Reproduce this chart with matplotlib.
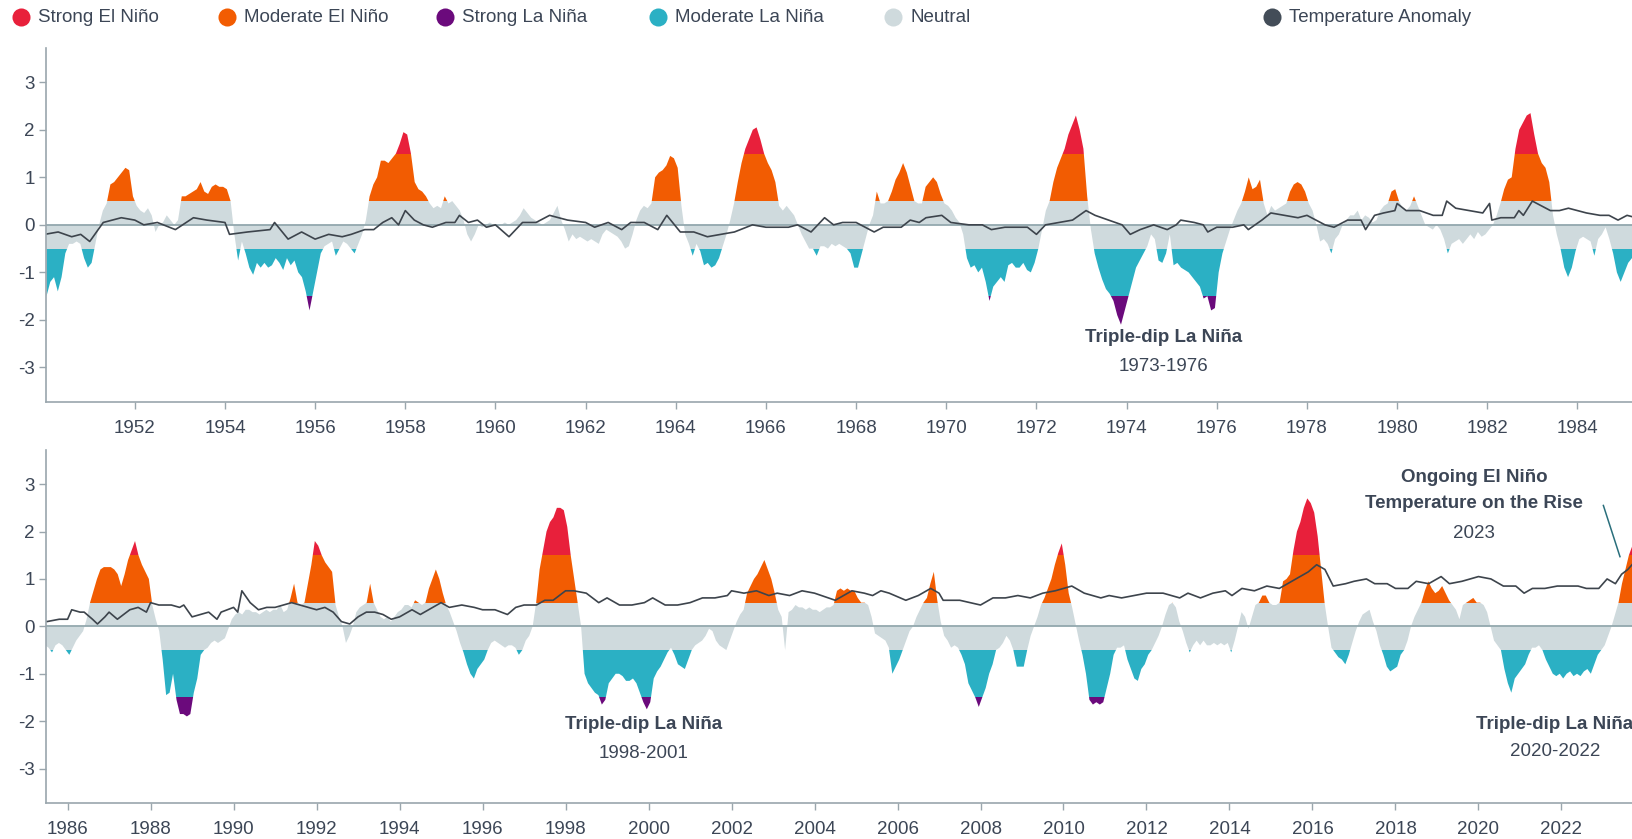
import matplotlib
matplotlib.use('Agg')
import matplotlib.pyplot as plt
from matplotlib.patches import Rectangle
from matplotlib.lines import Line2D
import numpy as np

plt.rcParams['font.family'] = ['Liberation Sans', 'DejaVu Sans']
plt.rcParams['axes.unicode_minus'] = False

# monthly nino index, Jan 1950 onwards
oni_1950s = [
    -1.5, -1.2, -1.1, -1.4, -1.1, -0.6, -0.4, -0.4, -0.35, -0.4, -0.7, -0.9,
    -0.8, -0.4, 0.0, 0.3, 0.45, 0.85, 0.9, 1.0, 1.1, 1.2, 1.15, 0.6,
    0.4, 0.3, 0.25, 0.35, 0.2, -0.15, 0.0, 0.05, 0.2, 0.1, 0.0, 0.1,
    0.6, 0.6, 0.65, 0.7, 0.75, 0.9, 0.7, 0.65, 0.8, 0.85, 0.8, 0.8,
    0.75, 0.5, -0.2, -0.75, -0.35, -0.6, -0.9, -1.05, -0.8, -0.9, -0.8, -0.9,
    -0.85, -0.7, -0.8, -0.95, -0.7, -0.85, -0.75, -1.0, -1.1, -1.4, -1.8, -1.4,
    -1.0, -0.6, -0.45, -0.4, -0.35, -0.65, -0.5, -0.35, -0.4, -0.5, -0.6, -0.4,
    -0.2, 0.1, 0.6, 0.85, 1.0, 1.35, 1.35, 1.3, 1.4, 1.5, 1.7, 1.95,
    1.9, 1.5, 0.9, 0.75, 0.7, 0.6, 0.45, 0.35, 0.4, 0.35, 0.6, 0.45,
    0.5, 0.4, 0.3, 0.1, -0.2, -0.35, -0.2, 0.0, -0.05, 0.0, 0.05, 0.0,
]
oni_1960s = [
    -0.05, 0.0, 0.05, 0.0, 0.05, 0.1, 0.2, 0.35, 0.25, 0.15, 0.1, 0.05,
    0.0, 0.05, 0.1, 0.25, 0.4, 0.1, -0.1, -0.35, -0.2, -0.3, -0.25, -0.3,
    -0.35, -0.3, -0.35, -0.4, -0.2, -0.1, -0.15, -0.2, -0.25, -0.35, -0.5, -0.45,
    -0.2, 0.1, 0.3, 0.4, 0.35, 0.45, 1.0, 1.1, 1.15, 1.25, 1.45, 1.4,
    1.2, 0.4, -0.2, -0.4, -0.65, -0.4, -0.55, -0.85, -0.8, -0.9, -0.85, -0.7,
    -0.45, -0.2, 0.1, 0.45, 0.9, 1.3, 1.6, 1.8, 2.0, 2.05, 1.8, 1.5,
    1.3, 1.15, 0.9, 0.4, 0.3, 0.4, 0.3, 0.2, 0.0, -0.2, -0.35, -0.5,
    -0.5, -0.65, -0.45, -0.45, -0.5, -0.4, -0.45, -0.4, -0.45, -0.5, -0.6, -0.9,
    -0.9, -0.6, -0.3, 0.0, 0.2, 0.7, 0.45, 0.45, 0.5, 0.7, 0.95, 1.1,
    1.3, 1.1, 0.8, 0.5, 0.45, 0.45, 0.8, 0.9, 1.0, 0.9, 0.65, 0.45,
]
oni_1970s = [
    0.4, 0.3, 0.15, 0.05, -0.2, -0.7, -0.9, -0.85, -1.0, -0.9, -1.2, -1.6,
    -1.3, -1.2, -1.1, -1.2, -0.85, -0.8, -0.9, -0.9, -0.8, -0.95, -1.0, -0.8,
    -0.5, -0.1, 0.3, 0.5, 0.9, 1.2, 1.4, 1.6, 1.9, 2.1, 2.3, 2.0,
    1.6, 0.6, -0.1, -0.6, -0.9, -1.15, -1.35, -1.45, -1.6, -1.9, -2.1, -1.8,
    -1.5, -1.2, -0.9, -0.75, -0.6, -0.45, -0.2, -0.3, -0.75, -0.8, -0.6, -0.2,
    -0.85, -0.8, -0.9, -0.95, -1.0, -1.1, -1.2, -1.3, -1.55, -1.5, -1.8, -1.75,
    -1.0, -0.6, -0.35, -0.1, 0.1, 0.3, 0.45, 0.7, 1.0, 0.75, 0.8, 0.95,
    0.45, 0.2, 0.4, 0.3, 0.35, 0.4, 0.45, 0.7, 0.85, 0.9, 0.85, 0.7,
    0.45, 0.3, 0.0, -0.35, -0.3, -0.4, -0.6, -0.3, -0.2, 0.0, 0.1, 0.2,
    0.2, 0.3, 0.1, 0.2, 0.15, 0.05, 0.1, 0.3, 0.4, 0.45, 0.7, 0.75,
]
oni_1980s = [
    0.5, 0.35, 0.3, 0.4, 0.6, 0.4, 0.2, 0.0, -0.05, -0.1, 0.0, -0.1,
    -0.3, -0.6, -0.4, -0.35, -0.3, -0.4, -0.3, -0.2, -0.3, -0.15, -0.25, -0.2,
    -0.1, 0.0, 0.2, 0.45, 0.75, 0.95, 1.0, 1.6, 2.0, 2.15, 2.3, 2.35,
    1.9, 1.5, 1.3, 1.2, 0.9, 0.2, -0.2, -0.5, -0.9, -1.1, -0.9, -0.55,
    -0.3, -0.25, -0.3, -0.35, -0.65, -0.3, -0.2, -0.05, -0.3, -0.6, -1.0, -1.2,
    -1.0, -0.8, -0.7, -0.6, -0.5, -0.4, -0.45, -0.55, -0.4, -0.35, -0.4, -0.5,
    -0.6, -0.45, -0.3, -0.2, -0.1, 0.15, 0.5, 0.75, 1.0, 1.2, 1.25, 1.25,
    1.25, 1.2, 1.1, 0.85, 1.1, 1.4, 1.6, 1.8, 1.5, 1.3, 1.15, 1.0,
    0.45, 0.15, -0.1, -0.7, -1.45, -1.4, -1.0, -1.55, -1.85, -1.85, -1.9, -1.85,
    -1.4, -1.1, -0.6, -0.5, -0.45, -0.35, -0.3, -0.35, -0.3, -0.25, -0.05, 0.15,
]
oni_1990s = [
    0.25, 0.3, 0.25, 0.35, 0.35, 0.3, 0.3, 0.25, 0.3, 0.35, 0.3, 0.35,
    0.35, 0.45, 0.3, 0.35, 0.6, 0.9, 0.5, 0.45, 0.5, 0.9, 1.3, 1.8,
    1.7, 1.5, 1.35, 1.25, 1.15, 0.45, 0.2, 0.0, -0.35, -0.2, 0.0, 0.3,
    0.4, 0.45, 0.5, 0.9, 0.5, 0.35, 0.2, 0.15, 0.2, 0.1, 0.2, 0.3,
    0.35, 0.45, 0.45, 0.4, 0.55, 0.5, 0.45, 0.5, 0.8, 1.0, 1.2, 1.0,
    0.7, 0.45, 0.3, 0.1, -0.1, -0.35, -0.55, -0.8, -1.0, -1.1, -0.9, -0.8,
    -0.7, -0.5, -0.35, -0.3, -0.35, -0.4, -0.45, -0.4, -0.4, -0.45, -0.6, -0.5,
    -0.3, -0.2, 0.0, 0.5, 1.2, 1.6, 2.0, 2.2, 2.3, 2.5, 2.5, 2.45,
    2.1, 1.5, 1.0, 0.5, 0.0, -1.0, -1.2, -1.3, -1.4, -1.45, -1.65, -1.55,
    -1.2, -1.1, -1.0, -1.0, -1.05, -1.15, -1.15, -1.1, -1.2, -1.4, -1.6, -1.75,
]
oni_2000s = [
    -1.6, -1.1, -0.95, -0.85, -0.7, -0.55, -0.45, -0.6, -0.8, -0.85, -0.9, -0.7,
    -0.5, -0.4, -0.35, -0.3, -0.2, -0.05, -0.1, -0.3, -0.4, -0.45, -0.5, -0.3,
    -0.1, 0.1, 0.25, 0.35, 0.7, 0.85, 1.0, 1.1, 1.25, 1.4, 1.2, 1.0,
    0.7, 0.35, 0.2, -0.5, 0.3, 0.35, 0.45, 0.4, 0.4, 0.35, 0.4, 0.35,
    0.35, 0.3, 0.35, 0.4, 0.4, 0.45, 0.75, 0.8, 0.75, 0.8, 0.75, 0.75,
    0.6, 0.5, 0.5, 0.45, 0.2, -0.15, -0.2, -0.25, -0.3, -0.45, -1.0, -0.85,
    -0.7, -0.5, -0.3, -0.1, 0.0, 0.2, 0.35, 0.5, 0.6, 0.9, 1.15, 0.55,
    0.1, -0.2, -0.3, -0.45, -0.4, -0.45, -0.6, -0.8, -1.2, -1.35, -1.5, -1.7,
    -1.5, -1.3, -1.0, -0.8, -0.5, -0.45, -0.35, -0.2, -0.3, -0.5, -0.85, -0.85,
    -0.85, -0.5, -0.2, 0.0, 0.2, 0.45, 0.6, 0.8, 1.0, 1.3, 1.55, 1.75,
]
oni_2010s = [
    1.3, 0.7, 0.4, 0.05, -0.3, -0.6, -1.0, -1.55, -1.65, -1.6, -1.65, -1.6,
    -1.3, -1.0, -0.6, -0.45, -0.45, -0.4, -0.7, -0.9, -1.1, -1.15, -0.9, -0.8,
    -0.6, -0.5, -0.35, -0.2, 0.0, 0.25, 0.45, 0.5, 0.4, 0.1, -0.1, -0.35,
    -0.55, -0.4, -0.3, -0.4, -0.3, -0.4, -0.4, -0.35, -0.4, -0.35, -0.4, -0.35,
    -0.55, -0.3, 0.0, 0.3, 0.2, -0.05, 0.2, 0.45, 0.5, 0.65, 0.65, 0.5,
    0.45, 0.45, 0.5, 0.95, 1.0, 1.1, 1.6, 2.0, 2.2, 2.5, 2.7, 2.6,
    2.4, 1.9, 1.2, 0.5, 0.0, -0.45, -0.55, -0.65, -0.7, -0.8, -0.6, -0.35,
    -0.1, 0.1, 0.25, 0.3, 0.35, 0.1, -0.1, -0.4, -0.6, -0.85, -0.95, -0.9,
    -0.85, -0.6, -0.5, -0.3, 0.0, 0.2, 0.35, 0.5, 0.75, 0.95, 0.8, 0.7,
    0.75, 0.85, 0.7, 0.55, 0.45, 0.35, 0.15, 0.45, 0.5, 0.55, 0.6, 0.5,
]
oni_2020s = [
    0.5, 0.45, 0.3, 0.0, -0.3, -0.4, -0.5, -0.9, -1.2, -1.4, -1.1, -1.0,
    -0.9, -0.8, -0.6, -0.45, -0.45, -0.4, -0.5, -0.7, -0.85, -1.0, -1.05, -1.0,
    -1.1, -1.0, -0.95, -1.05, -1.0, -1.05, -0.95, -0.9, -1.0, -0.8, -0.6, -0.5,
    -0.4, -0.2, 0.0, 0.25, 0.5, 0.9, 1.2, 1.5, 1.7, 1.8,
]

# global temperature anomaly
temp_years_early = [
    1950.0, 1950.3, 1950.6, 1950.8, 1951.0, 1951.3, 1951.7, 1952.0, 1952.2, 1952.5,
    1952.9, 1953.3, 1953.6, 1954.0, 1954.1, 1954.5, 1955.0, 1955.1, 1955.4, 1955.7,
    1956.0, 1956.3, 1956.6, 1956.8, 1957.1, 1957.3, 1957.5, 1957.7, 1957.85, 1958.0,
    1958.2, 1958.4, 1958.6, 1958.9, 1959.1, 1959.2, 1959.4, 1959.6, 1959.8, 1960.0,
    1960.3, 1960.6, 1960.9, 1961.2, 1961.4, 1961.6, 1962.0, 1962.2, 1962.5, 1962.8,
    1963.0, 1963.3, 1963.6, 1963.8, 1964.1, 1964.4, 1964.7, 1965.0, 1965.3, 1965.7,
    1966.0, 1966.5, 1966.7, 1967.0, 1967.3, 1967.5, 1967.7, 1968.0, 1968.4, 1968.6,
    1969.0, 1969.2, 1969.4, 1969.55, 1969.9, 1970.1, 1970.5, 1970.8, 1971.0, 1971.3,
    1971.5, 1971.8, 1972.0, 1972.2, 1972.5, 1972.8, 1973.1, 1973.3, 1973.6, 1973.9,
    1974.08, 1974.3, 1974.6, 1974.9, 1975.1, 1975.2, 1975.5, 1975.7, 1975.8, 1976.0,
    1976.35, 1976.6, 1976.7, 1977.0, 1977.2, 1977.5, 1977.8, 1978.0, 1978.2, 1978.4,
    1978.6, 1978.9, 1979.2, 1979.3, 1979.5, 1979.7, 1979.95, 1980.0, 1980.2, 1980.5,
    1980.8, 1981.0, 1981.1, 1981.3, 1981.6, 1981.9, 1982.05, 1982.1, 1982.3, 1982.6,
    1982.7, 1982.8, 1983.0, 1983.2, 1983.4, 1983.6, 1983.8, 1984.0, 1984.2, 1984.5,
    1984.7, 1984.9, 1985.1,
]
temp_early = [
    -0.2, -0.15, -0.25, -0.2, -0.35, 0.05, 0.15, 0.1, 0.0, 0.05,
    -0.1, 0.15, 0.1, 0.05, -0.2, -0.15, -0.1, 0.05, -0.3, -0.15,
    -0.3, -0.2, -0.25, -0.2, -0.1, -0.1, 0.05, 0.15, 0.0, 0.3,
    0.1, 0.0, -0.05, 0.05, 0.05, 0.2, 0.05, 0.1, -0.05, 0.0,
    -0.25, 0.05, 0.05, 0.2, 0.15, 0.1, 0.05, -0.05, 0.05, -0.1,
    0.05, 0.05, -0.1, 0.2, -0.15, -0.15, -0.25, -0.2, -0.15, 0.0,
    -0.05, -0.05, 0.0, -0.15, 0.15, 0.0, 0.05, 0.05, -0.15, -0.05,
    -0.05, 0.1, 0.05, 0.15, 0.2, 0.05, 0.0, 0.0, -0.1, -0.05,
    -0.05, -0.05, -0.2, 0.0, 0.05, 0.1, 0.3, 0.2, 0.1, 0.0,
    -0.2, -0.1, 0.0, -0.1, 0.0, 0.1, 0.05, 0.0, -0.15, -0.05,
    -0.05, 0.0, -0.1, 0.1, 0.25, 0.2, 0.15, 0.2, 0.1, 0.0,
    -0.05, 0.1, 0.1, -0.1, 0.2, 0.25, 0.3, 0.45, 0.3, 0.3,
    0.2, 0.2, 0.5, 0.35, 0.3, 0.25, 0.45, 0.1, 0.15, 0.15,
    0.3, 0.2, 0.5, 0.4, 0.3, 0.3, 0.35, 0.3, 0.25, 0.2,
    0.2, 0.1, 0.2,
]
temp_years_late = [
    1985.5, 1985.8, 1986.0, 1986.1, 1986.3, 1986.4, 1986.6, 1986.72, 1986.9, 1987.0,
    1987.2, 1987.5, 1987.7, 1987.9, 1988.0, 1988.2, 1988.5, 1988.7, 1988.8, 1989.0,
    1989.2, 1989.4, 1989.6, 1989.7, 1990.0, 1990.1, 1990.2, 1990.4, 1990.6, 1990.8,
    1991.0, 1991.2, 1991.4, 1991.6, 1991.8, 1992.0, 1992.2, 1992.4, 1992.6, 1992.8,
    1993.0, 1993.2, 1993.4, 1993.6, 1993.8, 1994.0, 1994.3, 1994.5, 1995.0, 1995.2,
    1995.5, 1995.8, 1996.0, 1996.3, 1996.6, 1996.8, 1997.0, 1997.3, 1997.5, 1997.7,
    1998.0, 1998.2, 1998.5, 1998.8, 1999.0, 1999.3, 1999.6, 1999.9, 2000.1, 2000.4,
    2000.7, 2001.0, 2001.3, 2001.6, 2001.9, 2002.0, 2002.3, 2002.6, 2002.9, 2003.1,
    2003.4, 2003.7, 2004.0, 2004.5, 2004.9, 2005.2, 2005.4, 2005.6, 2005.8, 2006.2,
    2006.5, 2006.8, 2007.0, 2007.1, 2007.5, 2008.0, 2008.3, 2008.6, 2008.9, 2009.2,
    2009.5, 2009.8, 2010.2, 2010.5, 2010.9, 2011.1, 2011.4, 2011.7, 2012.0, 2012.4,
    2012.8, 2013.0, 2013.3, 2013.6, 2013.9, 2014.06, 2014.3, 2014.6, 2014.9, 2015.2,
    2015.5, 2015.7, 2015.9, 2016.1, 2016.3, 2016.5, 2016.8, 2017.0, 2017.3, 2017.5,
    2017.8, 2018.0, 2018.3, 2018.5, 2018.8, 2019.1, 2019.3, 2019.6, 2019.8, 2020.0,
    2020.3, 2020.6, 2020.9, 2021.1, 2021.3, 2021.6, 2021.9, 2022.1, 2022.4, 2022.6,
    2022.9, 2023.1, 2023.3, 2023.45, 2023.6, 2023.7,
]
temp_late = [
    0.1, 0.15, 0.15, 0.35, 0.3, 0.3, 0.15, 0.05, 0.2, 0.3,
    0.15, 0.35, 0.4, 0.3, 0.5, 0.45, 0.45, 0.4, 0.45, 0.2,
    0.25, 0.3, 0.15, 0.3, 0.4, 0.3, 0.75, 0.5, 0.35, 0.4,
    0.4, 0.45, 0.5, 0.45, 0.4, 0.35, 0.4, 0.3, 0.1, 0.05,
    0.2, 0.3, 0.3, 0.25, 0.15, 0.2, 0.35, 0.25, 0.5, 0.4,
    0.45, 0.4, 0.35, 0.35, 0.25, 0.4, 0.45, 0.45, 0.55, 0.55,
    0.75, 0.75, 0.7, 0.5, 0.6, 0.45, 0.45, 0.5, 0.6, 0.45,
    0.45, 0.5, 0.6, 0.6, 0.65, 0.75, 0.7, 0.75, 0.65, 0.7,
    0.65, 0.75, 0.7, 0.55, 0.75, 0.7, 0.65, 0.75, 0.7, 0.55,
    0.65, 0.8, 0.7, 0.55, 0.55, 0.45, 0.6, 0.6, 0.65, 0.6,
    0.7, 0.75, 0.85, 0.7, 0.6, 0.65, 0.6, 0.65, 0.7, 0.7,
    0.6, 0.7, 0.6, 0.7, 0.75, 0.65, 0.8, 0.75, 0.85, 0.8,
    0.95, 1.05, 1.15, 1.3, 1.2, 0.85, 0.9, 0.95, 1.0, 0.9,
    0.9, 0.8, 0.8, 0.95, 0.9, 1.05, 0.9, 0.95, 1.0, 1.05,
    1.0, 0.85, 0.85, 0.7, 0.8, 0.8, 0.85, 0.85, 0.85, 0.8,
    0.8, 1.0, 0.9, 1.1, 1.2, 1.3,
]

oni = np.array(oni_1950s + oni_1960s + oni_1970s + oni_1980s + oni_1990s + oni_2000s
               + oni_2010s + oni_2020s)
t = 1950 + (np.arange(len(oni)) + 0.5) / 12.0
temp_years = temp_years_early + temp_years_late
temp_values = temp_early + temp_late

RED = '#e8203b'
ORANGE = '#f25c02'
PURPLE = '#6b0a7c'
TEAL = '#2bb0c4'
NEUTRAL = '#cfdadd'
LINE = '#3d444c'
TXT = '#3c4656'
SPINE = '#9aa6ad'

# value bands -> colour
bands = [
    (-0.5, 0.5, NEUTRAL),
    (0.5, 1.5, ORANGE),
    (1.5, 10, RED),
    (-1.5, -0.5, TEAL),
    (-10, -1.5, PURPLE),
]

legend_items = [
    ('Strong El Niño', RED, 21),
    ('Moderate El Niño', ORANGE, 227),
    ('Strong La Niña', PURPLE, 445),
    ('Moderate La Niña', TEAL, 658),
    ('Neutral', NEUTRAL, 893),
    ('Temperature Anomaly', '#434d58', 1272),
]

W, H = 1632, 839
fig = plt.figure(figsize=(W / 100, H / 100), dpi=100)


def draw_panel(ax, x0, x1, ticks):
    ax.set_xlim(x0, x1)
    ax.set_ylim(-3.72, 3.72)
    for lo, hi, col in bands:
        poly = ax.fill_between(t, 0, oni, color=col, linewidth=0, zorder=2)
        # keep only the part of the area inside this band (and inside the axes)
        clip = Rectangle((x0, lo), x1 - x0, hi - lo, transform=ax.transData)
        poly.set_clip_path(clip)
    ax.axhline(0, color='#93a8ae', lw=1.3, zorder=3)
    ax.plot(temp_years, temp_values, color=LINE, lw=1.2, zorder=4)
    ax.set_xticks(ticks)
    ax.set_xticklabels([str(v) for v in ticks])
    ax.set_yticks([-3, -2, -1, 0, 1, 2, 3])
    for s in ['top', 'right']:
        ax.spines[s].set_visible(False)
    for s in ['left', 'bottom']:
        ax.spines[s].set_color(SPINE)
        ax.spines[s].set_linewidth(1.2)
        ax.spines[s].set_zorder(5)
    ax.tick_params(axis='both', length=5, width=1, color=SPINE, labelcolor=TXT,
                   labelsize=13.5)
    ax.tick_params(axis='x', pad=8)
    ax.tick_params(axis='y', pad=3)
    ax.patch.set_alpha(0)


ax1 = fig.add_axes([46 / W, 1 - 401.7 / H, 1 - 46 / W, (401.7 - 48) / H])
draw_panel(ax1, 1950.03, 1985.21, list(range(1952, 1986, 2)))

ax2 = fig.add_axes([46 / W, 1 - 802.7 / H, 1 - 46 / W, (802.7 - 450) / H])
draw_panel(ax2, 1985.48, 2023.70, list(range(1986, 2024, 2)))

# annotations
ax1.text(1974.82, -2.37, 'Triple-dip La Niña', ha='center', va='center',
         fontsize=13.5, fontweight='bold', color=TXT)
ax1.text(1974.82, -2.98, '1973-1976', ha='center', va='center', fontsize=13.5, color=TXT)
ax2.text(1999.88, -2.06, 'Triple-dip La Niña', ha='center', va='center',
         fontsize=13.5, fontweight='bold', color=TXT)
ax2.text(1999.88, -2.69, '1998-2001', ha='center', va='center', fontsize=13.5, color=TXT)
ax2.text(2021.84, -2.08, 'Triple-dip La Niña', ha='center', va='center',
         fontsize=13.5, fontweight='bold', color=TXT)
ax2.text(2021.84, -2.65, '2020-2022', ha='center', va='center', fontsize=13.5, color=TXT)
ax2.text(2019.91, 3.14, 'Ongoing El Niño', ha='center', va='center',
         fontsize=13.5, fontweight='bold', color=TXT)
ax2.text(2019.89, 2.59, 'Temperature on the Rise', ha='center', va='center',
         fontsize=13.5, fontweight='bold', color=TXT)
ax2.text(2019.89, 1.96, '2023', ha='center', va='center', fontsize=13.5, color=TXT)
ax2.plot([2023.01, 2023.41], [2.55, 1.47], color='#2a6f7c', lw=1.1, zorder=5)

# legend row
for label, col, xc in legend_items:
    fig.add_artist(Line2D([xc / W], [1 - 17 / H], marker='o', markersize=13,
                          color=col, markeredgewidth=0, transform=fig.transFigure))
    fig.text((xc + 17) / W, 1 - 17 / H, label, ha='left', va='center',
             fontsize=13.5, color=TXT)

plt.savefig('out.png', dpi=100)
